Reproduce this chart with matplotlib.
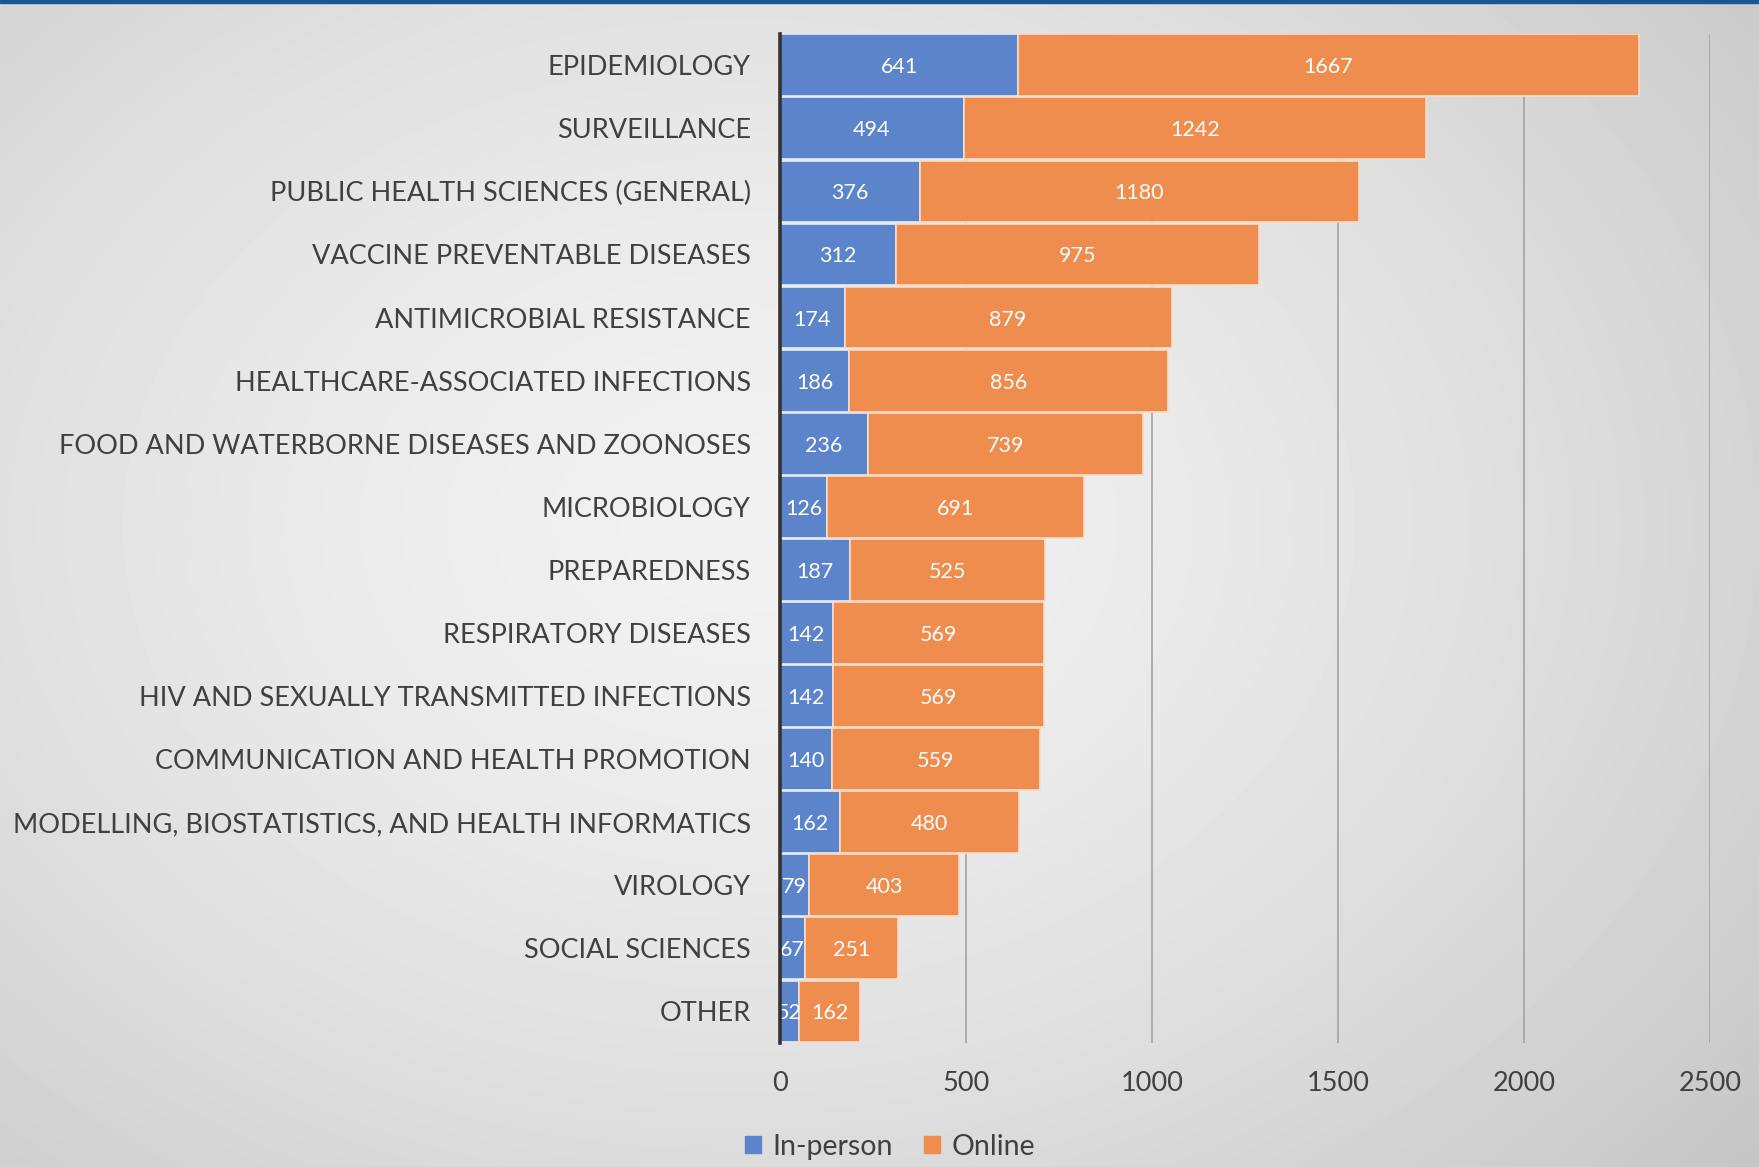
import numpy as np
import matplotlib.pyplot as plt
from matplotlib.patches import Rectangle

plt.rcParams['font.family'] = ['Lato', 'DejaVu Sans']

categories = [
    "EPIDEMIOLOGY", "SURVEILLANCE", "PUBLIC HEALTH SCIENCES (GENERAL)",
    "VACCINE PREVENTABLE DISEASES", "ANTIMICROBIAL RESISTANCE",
    "HEALTHCARE-ASSOCIATED INFECTIONS", "FOOD AND WATERBORNE DISEASES AND ZOONOSES",
    "MICROBIOLOGY", "PREPAREDNESS", "RESPIRATORY DISEASES",
    "HIV AND SEXUALLY TRANSMITTED INFECTIONS", "COMMUNICATION AND HEALTH PROMOTION",
    "MODELLING, BIOSTATISTICS, AND HEALTH INFORMATICS", "VIROLOGY",
    "SOCIAL SCIENCES", "OTHER",
]
in_person = [641, 494, 376, 312, 174, 186, 236, 126, 187, 142, 142, 140, 162, 79, 67, 52]
online = [1667, 1242, 1180, 975, 879, 856, 739, 691, 525, 569, 569, 559, 480, 403, 251, 162]
xticks = [0, 500, 1000, 1500, 2000, 2500]

blue = "#5b84cb"
orange = "#ee8d4d"
text_col = "#404040"

fig = plt.figure(figsize=(17.59, 11.67), dpi=100)

# background: soft radial grey gradient
bg = fig.add_axes([0, 0, 1, 1], zorder=-10)
yy, xx = np.mgrid[0:1:300j, 0:1:450j]
r = np.sqrt(((xx - 0.42) / 0.75) ** 2 + ((yy - 0.55) / 0.85) ** 2)
shade = 0.945 - 0.17 * np.clip(r, 0, 1.2) ** 1.6
bg.imshow(shade, cmap="gray", vmin=0, vmax=1, extent=[0, 1, 0, 1],
          aspect="auto", origin="lower", interpolation="bilinear")
bg.add_patch(Rectangle((0, 0.9972), 1, 0.0028, color="#1b5598", transform=bg.transAxes))
bg.set_xlim(0, 1)
bg.set_ylim(0, 1)
bg.axis("off")

ax = fig.add_axes([0.4434, 0.1063, 0.5287, 0.8648])
ax.patch.set_alpha(0)

y = np.arange(len(categories))
ip = np.array(in_person)
on = np.array(online)
ax.barh(y, ip, height=0.98, color=blue, edgecolor="#e6ecf5", linewidth=1.2, zorder=3)
ax.barh(y, on, left=ip, height=0.98, color=orange, edgecolor="#f8dcc8", linewidth=1.2, zorder=3)

for i in range(len(categories)):
    ax.text(ip[i] / 2, y[i], str(ip[i]), ha="center", va="center_baseline",
            color="white", fontsize=15.5, zorder=4)
    ax.text(ip[i] + on[i] / 2, y[i], str(on[i]), ha="center", va="center_baseline",
            color="white", fontsize=15.5, zorder=4)

ax.set_ylim(len(categories) - 0.5, -0.5)
ax.set_xlim(0, 2500)
ax.set_yticks(y)
ax.set_yticklabels(categories, fontsize=19.5, color=text_col)
ax.set_xticks(xticks)
ax.set_xticklabels([str(t) for t in xticks], fontsize=19.5, color=text_col)
ax.tick_params(axis="y", length=0, pad=21)
ax.tick_params(axis="x", length=0, pad=20)
ax.grid(axis="x", color="#a3a3a3", linewidth=1.2, zorder=0)
for s in ["top", "right", "bottom"]:
    ax.spines[s].set_visible(False)
ax.spines["left"].set_color("#333333")
ax.spines["left"].set_linewidth(2.6)
ax.spines["left"].set_zorder(5)

handles = [Rectangle((0, 0), 1, 1, color=blue), Rectangle((0, 0), 1, 1, color=orange)]
fig.legend(handles, ["In-person", "Online"], loc="center", bbox_to_anchor=(0.506, 0.0175),
           ncol=2, frameon=False, fontsize=20.5, handlelength=0.55, handleheight=0.55,
           handletextpad=0.4, columnspacing=1.1, labelcolor=text_col)

fig.savefig("out.png", dpi=100)
